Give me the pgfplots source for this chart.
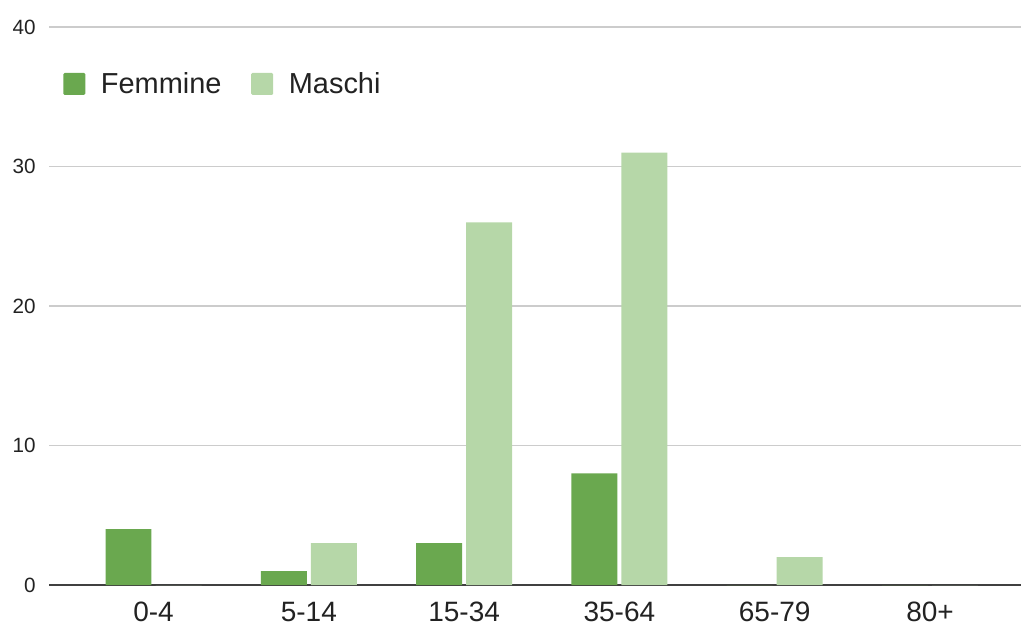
\documentclass[border=0pt]{standalone}
\usepackage{fontspec}
\setmainfont{Liberation Sans}
\usepackage{pgfplots}
\pgfplotsset{compat=1.18}
\definecolor{fem}{HTML}{6AA84F}
\definecolor{mas}{HTML}{B6D7A8}
\definecolor{txt}{HTML}{222222}
\begin{document}
\begin{tikzpicture}
\useasboundingbox (-36.75pt,-30pt) rectangle (729pt,438.75pt);
\begin{axis}[
  at={(0pt,0pt)}, anchor=south west,
  scale only axis, width=729pt, height=418.5pt,
  xmin=-0.673, xmax=5.586, ymin=0, ymax=40,
  axis line style={draw=none},
  major tick length=0pt,
  ytick={10,20,30,40},
  extra y ticks={0},
  extra y tick style={grid style={color=black!75, line width=1.1pt}},
  ymajorgrids,
  grid style={color=black!20, line width=0.8pt},
  xtick={0,1,2,3,4,5},
  xticklabels={0-4,5-14,15-34,35-64,65-79,80+},
  /pgf/number format/assume math mode=true,
  yticklabel style={font=\fontsize{15.5}{18}\selectfont, text=txt, anchor=east, inner sep=0pt, xshift=-9.75pt},
  xticklabel style={font=\fontsize{21}{25}\selectfont, text=txt, anchor=north, inner sep=0pt, yshift=-12.75pt},
  legend image code/.code={\fill[#1, draw=none, rounded corners=1pt] (0pt,-8.25pt) rectangle (16.5pt,8.25pt);},
  legend style={at={(0.0103,0.898)}, anchor=west, draw=none, fill=none,
    font=\fontsize{21.7}{25}\selectfont, text=txt,
    /tikz/every even column/.append style={column sep=20.25pt},
    /tikz/every odd column/.append style={column sep=9.75pt}},
  legend columns=-1,
]
\addplot[ybar, fill=fem, draw=none, bar width=0.296, bar shift=-0.161]
  coordinates {(0,4) (1,1) (2,3) (3,8) (4,0) (5,0)};
\addlegendentry{Femmine}
\addplot[ybar, fill=mas, draw=none, bar width=0.296, bar shift=0.161]
  coordinates {(0,0) (1,3) (2,26) (3,31) (4,2) (5,0)};
\addlegendentry{Maschi}
\end{axis}
\end{tikzpicture}
\end{document}
